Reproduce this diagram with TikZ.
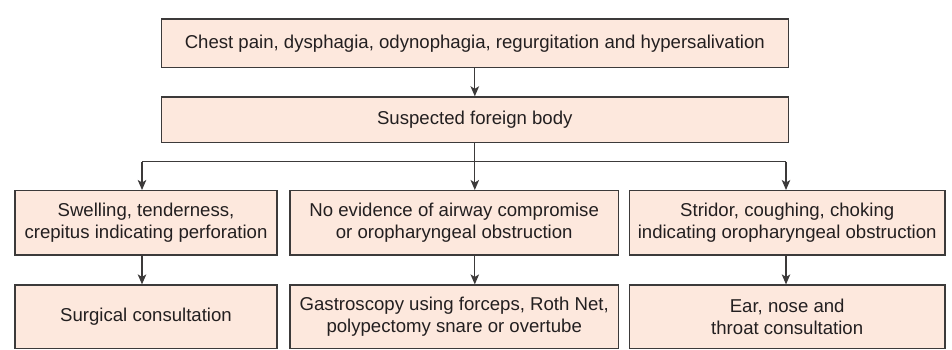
\documentclass[tikz,border=0pt]{standalone}
\usepackage{fontspec}
\setmainfont{Liberation Sans}
\usetikzlibrary{arrows.meta}
\definecolor{boxfill}{RGB}{253,232,221}
\definecolor{ink}{RGB}{35,31,32}
\definecolor{edge}{RGB}{60,58,58}
\begin{document}
\begin{tikzpicture}[x=1pt,y=-1pt,
  box/.style={draw=edge,fill=boxfill,line width=1.3pt,text=ink,align=center,
    inner sep=0pt,font=\fontsize{18.6}{22.5}\selectfont},
  arr/.style={draw=edge,line width=1.3pt,-{Stealth[length=10pt,width=8.5pt,inset=2.5pt]}},
  ln/.style={draw=edge,line width=1.3pt}]
\useasboundingbox (0,0) rectangle (952,349);
\node[box,minimum width=627pt,minimum height=48.7pt] (top) at (474.8,43.3)
  {Chest pain, dysphagia, odynophagia, regurgitation and hypersalivation};
\node[box,minimum width=627pt,minimum height=45.7pt] (sus) at (474.8,119.8)
  {Suspected foreign body};
\node[box,minimum width=262pt,minimum height=64.3pt] (L) at (146,222.8)
  {Swelling, tenderness,\\crepitus indicating perforation};
\node[box,minimum width=328.5pt,minimum height=64.3pt] (M) at (454.2,222.8)
  {No evidence of airway compromise\\or oropharyngeal obstruction};
\node[box,minimum width=315.7pt,minimum height=64.3pt] (R) at (787.2,222.8)
  {Stridor, coughing, choking\\indicating oropharyngeal obstruction};
\node[box,minimum width=262pt,minimum height=63.5pt] (L2) at (146,316.8)
  {Surgical consultation};
\node[box,minimum width=328.5pt,minimum height=63.5pt] (M2) at (454.2,316.8)
  {Gastroscopy using forceps, Roth Net,\\polypectomy snare or overtube};
\node[box,minimum width=315.7pt,minimum height=63.5pt] (R2) at (787.2,316.8)
  {Ear, nose and\\throat consultation};
\coordinate (bl) at (142,161.7);
\coordinate (bm) at (474.8,161.7);
\coordinate (br) at (786,161.7);
\draw[arr] (top.south) -- (sus.north);
\draw[ln] (sus.south) -- (bm);
\draw[ln] (bl) -- (br);
\draw[arr] (bl) -- (bl |- L.north);
\draw[arr] (bm) -- (bm |- M.north);
\draw[arr] (br) -- (br |- R.north);
\draw[arr] (bl |- L.south) -- (bl |- L2.north);
\draw[arr] (bm |- M.south) -- (bm |- M2.north);
\draw[arr] (br |- R.south) -- (br |- R2.north);
\end{tikzpicture}
\end{document}
